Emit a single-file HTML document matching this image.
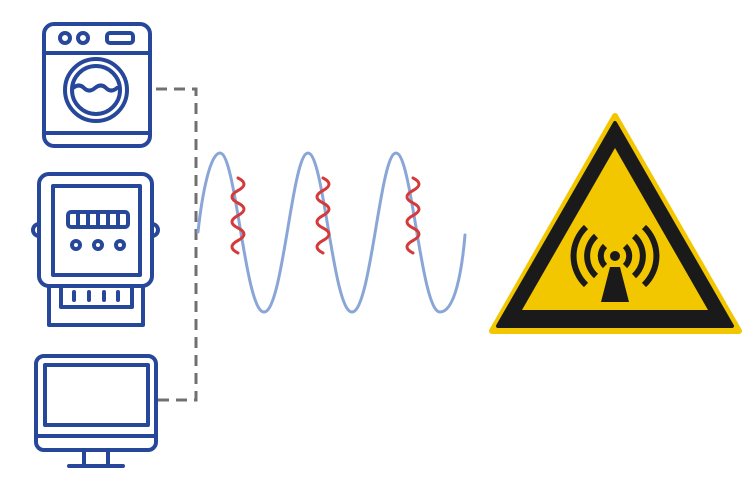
<!DOCTYPE html>
<html><head><meta charset="utf-8"><style>
html,body{margin:0;padding:0;background:#fff;width:750px;height:480px;overflow:hidden}
</style></head><body>
<svg width="750" height="480" viewBox="0 0 750 480" xmlns="http://www.w3.org/2000/svg">
<g fill="none" stroke="#27479a" stroke-width="4" stroke-linecap="round" stroke-linejoin="round">
  <rect x="44" y="24" width="106" height="122" rx="10"/>
  <line x1="44" y1="53" x2="150" y2="53"/>
  <line x1="44" y1="133" x2="150" y2="133"/>
  <circle cx="65" cy="38" r="5"/>
  <circle cx="83" cy="38" r="5"/>
  <rect x="107" y="33" width="26" height="10" rx="3"/>
  <circle cx="96" cy="90" r="31"/>
  <circle cx="96" cy="90" r="24"/>
  <path d="M73 88 q6 -5 11 0 t11 0 t11 0 t11 0"/>
  <rect x="39" y="174" width="113" height="112" rx="10"/>
  <rect x="53" y="186" width="87" height="89"/>
  <rect x="68" y="212" width="60" height="15" rx="3"/>
  <line x1="78" y1="214" x2="78" y2="225"/><line x1="88" y1="214" x2="88" y2="225"/><line x1="98" y1="214" x2="98" y2="225"/><line x1="108" y1="214" x2="108" y2="225"/><line x1="118" y1="214" x2="118" y2="225"/>
  <circle cx="76" cy="245" r="4"/><circle cx="98" cy="245" r="4"/><circle cx="120" cy="245" r="4"/>
  <path d="M39 224 a6 6 0 0 0 0 12"/><path d="M152 224 a6 6 0 0 1 0 12"/>
  <rect x="49" y="286" width="94" height="39"/>
  <rect x="61" y="286" width="71" height="21"/>
  <line x1="74" y1="292" x2="74" y2="300"/><line x1="89" y1="292" x2="89" y2="300"/><line x1="104" y1="292" x2="104" y2="300"/><line x1="118" y1="292" x2="118" y2="300"/>
  <rect x="36" y="356" width="120" height="94" rx="8"/>
  <rect x="45" y="365" width="103" height="60"/>
  <line x1="36" y1="436" x2="156" y2="436"/>
  <line x1="84" y1="450" x2="84" y2="465"/><line x1="108" y1="450" x2="108" y2="465"/>
  <line x1="69" y1="466" x2="123" y2="466"/>
</g>
<path d="M156 89 H196 V400 H158" fill="none" stroke="#707070" stroke-width="3" stroke-dasharray="11 7"/>
<path fill="none" stroke="#8aa6d6" stroke-width="3" stroke-linecap="round" d="M198 232
C202 195 210 153 220 153 C236 153 245 312 264 312 C283 312 292 153 308 153 C324 153 333 312 352 312 C371 312 380 153 396 153 C412 153 421 312 440 312 C455 312 462 270 465 235"/>
<g fill="none" stroke="#d43a3a" stroke-width="3" stroke-linecap="round">
  <path d="M238 178 q12 6 0 12.5 t0 12.5 t0 12.5 t0 12.5 t0 12.5 t0 12.5"/>
  <path d="M323 178 q12 6 0 12.5 t0 12.5 t0 12.5 t0 12.5 t0 12.5 t0 12.5"/>
  <path d="M413 178 q12 6 0 12.5 t0 12.5 t0 12.5 t0 12.5 t0 12.5 t0 12.5"/>
</g>
<path d="M615 116 L739 331 L492 331 Z" fill="#f3c700" stroke="#f3c700" stroke-width="6" stroke-linejoin="round"/>
<path d="M615 123 L732 326 L498 326 Z" fill="#1a1a1a" stroke="#1a1a1a" stroke-width="4" stroke-linejoin="round"/>
<path d="M615 148 L708 310 L522 310 Z" fill="#f3c700"/>
<g fill="none" stroke="#1a1a1a" stroke-width="6">
  <path d="M605 266 A14 14 0 0 1 605 246"/><path d="M625 246 A14 14 0 0 1 625 266"/>
  <path d="M596 276 A27 27 0 0 1 596 236"/><path d="M634 236 A27 27 0 0 1 634 276"/>
  <path d="M586 285 A40 40 0 0 1 586 227"/><path d="M644 227 A40 40 0 0 1 644 285"/>
</g>
<circle cx="615" cy="256" r="5" fill="#1a1a1a"/>
<path d="M610 267 L620 267 L629 302 L601 302 Z" fill="#1a1a1a"/>
</svg>
</body></html>
